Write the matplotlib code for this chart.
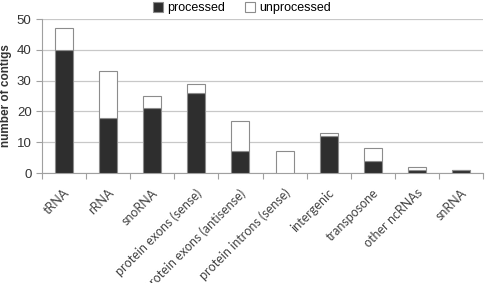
import numpy as np
import matplotlib.pyplot as plt

plt.rcParams['font.family'] = ['Liberation Sans', 'DejaVu Sans']

categories = ['tRNA', 'rRNA', 'snoRNA', 'protein exons (sense)', 'protein exons (antisense)',
              'protein introns (sense)', 'intergenic', 'transposone', 'other ncRNAs', 'snRNA']
processed = [40, 18, 21, 26, 7, 0, 12, 4, 1, 1]
unprocessed = [7, 15, 4, 3, 10, 7, 1, 4, 1, 0]

fig = plt.figure(figsize=(4.87, 2.83), dpi=100)
ax = fig.add_axes([42 / 487, 1 - 173 / 283, 441 / 487, 154 / 283])

x = np.arange(len(categories))
edge = '#8c8c8c'
ax.bar(x, processed, width=0.41, color='#2e2e2e', edgecolor=edge, linewidth=0.8,
       label='processed', zorder=3)
ax.bar(x, unprocessed, width=0.41, bottom=processed, color='white', edgecolor=edge,
       linewidth=0.8, label='unprocessed', zorder=3)

ax.set_xlim(-0.5, len(categories) - 0.5)
ax.set_ylim(0, 50)
ax.set_yticks(range(0, 51, 10))
ax.yaxis.grid(True, color='#c8c8c8', linewidth=0.9, zorder=0)
for s in ['top', 'right']:
    ax.spines[s].set_visible(False)
ax.spines['left'].set_color('#a0a0a0')
ax.spines['bottom'].set_color('#a0a0a0')
ax.tick_params(axis='y', colors='#a0a0a0', labelcolor='#333333', labelsize=9.5, length=4)

# category separator ticks
ax.set_xticks(np.arange(-0.5, len(categories), 1.0))
ax.set_xticklabels([])
ax.tick_params(axis='x', colors='#a0a0a0', length=4)
for i, c in enumerate(categories):
    ax.text(i - 0.02, -4.5, c, rotation=45, ha='right', va='top', rotation_mode='anchor',
            fontsize=9, color='#444444', family='Lato')

ax.set_ylabel('number of contigs', fontsize=8.5, fontweight='bold', color='#333333')
ax.yaxis.set_label_coords(-30 / 441, 0.5)

ax.legend(loc='center', bbox_to_anchor=(200 / 441, 1 + 11 / 154), ncol=2, frameon=False,
          fontsize=9, handlelength=0.8, handleheight=0.8, handletextpad=0.3,
          columnspacing=1.6, borderaxespad=0)

fig.savefig('out.png', dpi=100)
